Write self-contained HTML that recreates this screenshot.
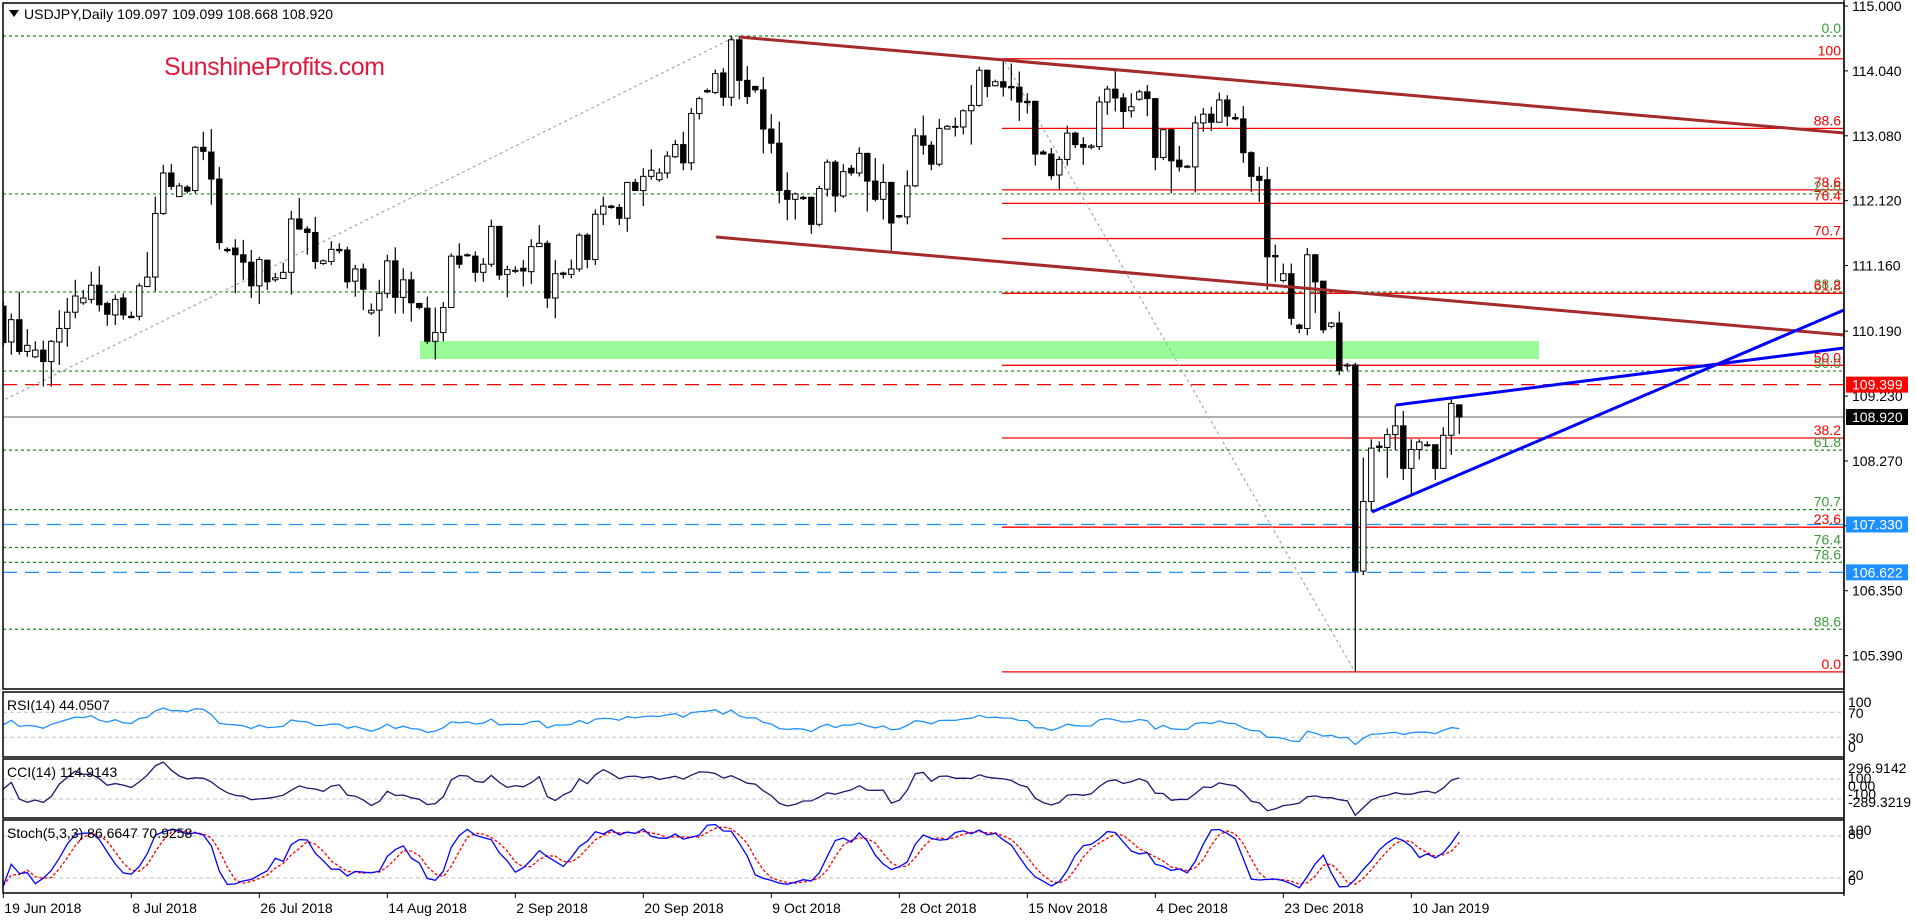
<!DOCTYPE html>
<html><head><meta charset="utf-8"><title>USDJPY Daily</title>
<style>html,body{margin:0;padding:0;background:#fff;}svg{display:block;font-family:"Liberation Sans",sans-serif;}</style>
</head><body>
<svg id="chart" xmlns="http://www.w3.org/2000/svg" width="1916" height="920" viewBox="0 0 1916 920">
<rect x="0" y="0" width="1916" height="920" fill="#fff"/>
<g id="main"></g>
<g id="sub"></g>
</svg>
<script>
// ---- price data (daily OHLC, bars 0..182) ----
const opens=[110.56,110.03,110.36,109.89,109.81,109.91,109.74,110.03,110.23,110.47,
110.61,110.66,110.87,110.60,110.43,110.68,110.41,110.41,110.85,110.99,
111.93,112.53,112.18,112.32,112.27,112.91,112.84,112.44,111.40,111.42,
111.32,111.21,110.86,111.24,110.95,110.97,111.06,111.85,111.70,111.65,
111.19,111.22,111.40,111.39,110.93,111.11,110.46,110.50,110.75,111.23,
110.69,110.95,110.60,110.53,110.04,110.17,110.54,111.30,111.32,111.30,
111.06,111.18,111.74,111.03,111.08,111.12,111.07,111.44,111.49,110.68,
111.05,111.03,111.11,111.61,111.25,111.92,112.04,112.02,111.86,112.39,
112.27,112.48,112.43,112.53,112.77,112.95,112.68,113.41,113.75,113.72,
114.01,113.65,114.50,113.90,113.81,113.76,113.18,112.97,112.27,112.14,
112.17,112.17,111.77,112.29,112.69,112.19,112.60,112.53,112.82,112.41,
112.14,112.39,111.90,111.88,112.34,113.08,112.94,112.66,113.18,113.22,
113.21,113.45,113.53,114.05,113.82,113.88,113.81,113.80,113.59,113.59,
112.84,112.81,112.50,112.73,113.12,112.95,112.91,112.92,113.58,113.77,
113.64,113.45,113.62,113.73,113.63,112.76,113.17,112.72,112.63,112.62,
113.27,113.40,113.28,113.61,113.35,113.33,112.83,112.48,112.43,111.31,
110.94,111.04,110.28,110.23,111.32,110.93,110.26,110.31,109.69,109.69,
106.64,107.67,108.49,108.47,108.66,108.79,108.16,108.44,108.51,108.51,
108.16,108.65,109.10];
const highs=[110.63,110.45,110.77,110.22,110.04,110.05,110.06,110.50,110.68,110.95,
110.80,111.07,111.15,110.63,110.73,110.75,110.48,110.90,111.36,112.18,
112.65,112.66,112.38,112.35,112.93,113.14,113.18,112.62,111.43,111.55,
111.54,111.39,111.29,111.25,111.05,111.20,111.97,112.16,111.74,111.88,
111.25,111.52,111.49,111.44,111.17,111.19,110.60,110.95,111.32,111.43,
111.12,111.07,110.61,110.70,110.54,110.62,111.34,111.49,111.34,111.37,
111.27,111.84,111.75,111.16,111.15,111.24,111.55,111.76,111.53,111.24,
111.07,111.25,111.64,111.64,111.99,112.18,112.06,112.07,112.40,112.44,
112.60,112.88,112.60,112.85,113.02,113.14,113.49,113.66,113.78,114.06,
114.08,114.56,114.56,114.11,113.82,113.95,113.40,113.29,112.54,112.24,
112.19,112.18,112.34,112.73,112.72,112.66,112.65,112.91,112.83,112.75,
112.66,112.40,111.91,112.57,113.19,113.38,113.00,113.33,113.24,113.35,
113.47,113.83,114.10,114.06,113.91,114.19,114.15,114.03,113.71,113.60,
112.87,112.90,112.77,113.23,113.14,113.06,112.96,113.66,113.82,114.05,
113.71,113.71,113.76,113.83,113.64,113.18,113.18,112.93,112.65,113.37,
113.49,113.51,113.72,113.68,113.41,113.52,112.85,112.62,112.62,111.47,
111.19,111.19,110.30,111.42,111.33,110.93,110.33,110.48,109.72,109.72,
108.32,108.59,108.56,108.75,109.10,109.01,108.59,108.59,108.56,108.51,
108.77,109.20,109.10];
const lows=[109.96,109.84,109.84,109.81,109.79,109.37,109.37,109.69,109.96,110.38,
110.58,110.60,110.48,110.27,110.28,110.36,110.38,110.35,110.84,110.78,
111.91,112.28,112.18,112.23,112.23,112.72,112.06,111.40,111.35,110.75,
110.95,110.68,110.59,110.80,110.92,110.96,110.73,111.69,111.32,111.11,
111.17,111.17,111.34,110.82,110.70,110.50,110.43,110.11,110.68,110.45,
110.45,110.33,110.51,110.00,109.77,110.04,110.53,111.12,111.29,110.92,
110.92,111.14,110.95,110.69,111.05,110.85,110.89,111.44,110.53,110.38,
110.97,110.97,111.07,111.12,111.17,111.76,112.00,111.76,111.66,112.27,
112.04,112.43,112.40,112.45,112.75,112.57,112.57,113.32,113.71,113.70,
113.52,113.52,113.62,113.55,113.72,112.82,112.82,112.08,111.83,111.84,
112.13,111.63,111.74,112.18,111.95,112.16,112.49,112.48,111.96,112.11,
111.84,111.38,111.86,111.77,112.32,112.80,112.57,112.63,113.17,113.07,
113.10,112.95,113.51,113.65,113.81,113.66,113.60,113.30,113.41,112.64,
112.80,112.43,112.29,112.64,112.90,112.65,112.88,112.87,113.39,113.44,
113.18,113.35,113.60,113.37,112.57,112.72,112.23,112.55,112.60,112.24,
113.14,113.15,113.28,113.22,113.31,112.68,112.25,112.10,110.80,110.92,
110.91,110.28,110.16,110.13,110.46,110.16,110.23,109.54,109.61,105.14,
106.58,107.52,108.40,108.02,108.43,107.99,107.77,108.29,108.48,107.99,
108.15,108.36,108.67];
const closes=[110.02,110.36,109.89,109.98,109.91,109.74,110.04,110.23,110.47,110.71,
110.68,110.87,110.58,110.44,110.66,110.43,110.39,110.86,110.99,111.93,
112.53,112.33,112.34,112.26,112.91,112.85,112.44,111.50,111.38,111.32,
111.21,110.86,111.25,110.92,110.98,111.06,111.85,111.70,111.65,111.22,
111.23,111.40,111.38,110.92,111.11,110.81,110.50,110.75,111.23,110.69,
110.95,110.61,110.54,110.04,110.17,110.54,111.30,111.18,111.31,111.06,
111.18,111.74,111.02,111.10,111.09,111.08,111.44,111.49,110.68,111.04,
111.03,111.11,111.61,111.25,111.92,112.04,112.02,111.86,112.39,112.27,
112.48,112.57,112.53,112.78,112.95,112.68,113.41,113.63,113.73,114.00,
113.65,114.50,113.90,113.66,113.76,113.18,112.97,112.27,112.14,112.22,
112.15,111.77,112.30,112.69,112.19,112.55,112.53,112.82,112.41,112.14,
112.39,111.79,111.88,112.34,113.08,112.94,112.66,113.19,113.22,113.21,
113.45,113.53,114.05,113.81,113.88,113.80,113.79,113.58,113.57,112.81,
112.81,112.49,112.73,113.12,112.95,112.91,112.93,113.58,113.77,113.64,
113.44,113.51,113.73,113.63,112.76,113.17,112.71,112.62,112.62,113.27,
113.40,113.28,113.61,113.37,113.33,112.83,112.48,112.42,111.29,111.29,
111.04,110.38,110.23,111.32,110.92,110.21,110.31,109.61,109.68,106.64,
107.67,108.46,108.47,108.66,108.79,108.16,108.44,108.55,108.50,108.16,
108.65,109.12,108.92];
const priceTicks=[115.000,114.040,113.080,112.120,111.160,110.190,109.230,108.270,107.310,106.350,105.390];
const dateLabels=['19 Jun 2018','8 Jul 2018','26 Jul 2018','14 Aug 2018','2 Sep 2018','20 Sep 2018','9 Oct 2018','28 Oct 2018','15 Nov 2018','4 Dec 2018','23 Dec 2018','10 Jan 2019'];
const redFibLevels=['100','88.6','78.6','76.4','70.7','61.8','50.0','38.2','23.6','0.0'];
const redFibValues=[114.22,113.19,112.28,112.08,111.56,110.75,109.685,108.61,107.29,105.15];
const greenFibLevels=['0.0','23.6','38.2','50.0','61.8','70.7','76.4','78.6','88.6'];
const greenFibValues=[114.556,112.22,110.77,109.60,108.43,107.55,106.99,106.77,105.78];

const NS='http://www.w3.org/2000/svg';
const main=document.getElementById('main'), sub=document.getElementById('sub');
function el(tag,attrs,parent){const e=document.createElementNS(NS,tag);for(const k in attrs)e.setAttribute(k,attrs[k]);(parent||main).appendChild(e);return e;}
function txt(s,attrs,parent){const e=el('text',attrs,parent);e.textContent=s;return e;}
const AX=1844;
function xOf(i){return 3.3+8*i;}
function yP(p){return 6+(115-p)*67.6;}
function yR(v){return 756-v*0.625;}
function yC(v){return 789-v*0.1;}
function yS(v){return 892-v*0.7;}

const defs=el('defs',{});
const cp=el('clipPath',{id:'mc'},defs);el('rect',{x:3,y:3,width:AX-3,height:686},cp);
const cr=el('clipPath',{id:'rc'},defs);el('rect',{x:3,y:692,width:AX-3,height:65},cr);
const cc=el('clipPath',{id:'cc'},defs);el('rect',{x:3,y:759,width:AX-3,height:59},cc);
const cs=el('clipPath',{id:'sc'},defs);el('rect',{x:3,y:820,width:AX-3,height:73},cs);
const g=el('g',{'clip-path':'url(#mc)'});



let z=el('rect',{x:420,y:341,width:1119,height:18,fill:'#98fb98'},g);



greenFibValues.forEach((v,k)=>{
  const l=el('line',{x1:3,x2:AX,y1:yP(v),y2:yP(v),stroke:'#1a8a1a','stroke-width':1.2,'stroke-dasharray':'3,3'},g);
  
  
});
redFibValues.forEach((v,k)=>{
  const l=el('line',{x1:1002,x2:AX,y1:yP(v),y2:yP(v),stroke:'#ff0000','stroke-width':1.3},g);
  
  
});
function hline(p,color,dash,name,w){const l=el('line',{x1:3,x2:AX,y1:yP(p),y2:yP(p),stroke:color,'stroke-width':w||1.3,'stroke-dasharray':dash},g);}
hline(109.399,'#ff0000','14,8','resistance-dashed-line');
hline(107.330,'#1e90ff','14,8','support-dashed-line-1');
hline(106.622,'#1e90ff','14,8','support-dashed-line-2');
hline(108.920,'#808080','','current-price-line',1.2);

let d1=el('line',{x1:0,y1:402,x2:737,y2:36,stroke:'#a8a8a8','stroke-width':1.2,'stroke-dasharray':'3,3'},g);


let d2=el('line',{x1:1005,y1:62,x2:1355,y2:672,stroke:'#a8a8a8','stroke-width':1.2,'stroke-dasharray':'3,3'},g);



for(let i=0;i<closes.length;i++){
  const x=xOf(i),o=opens[i],c=closes[i];
  const w=el('line',{x1:x,x2:x,y1:yP(highs[i]),y2:yP(lows[i]),stroke:'#000','stroke-width':1.2},g);
  
  
  const top=yP(Math.max(o,c)),bot=yP(Math.min(o,c));
  const b=el('rect',{x:x-2.7,y:top,width:5.4,height:Math.max(bot-top,1),fill:c>=o?'#fff':'#000',stroke:'#000','stroke-width':1},g);
  
  
}

function tl(x1,y1,x2,y2,col,name){const l=el('line',{x1,y1,x2,y2,stroke:col,'stroke-width':3},g);}
tl(739,37,1844,133,'#a52a2a','channel-upper-line');
tl(716,237,1844,335,'#a52a2a','channel-lower-line');
tl(1396,405,1844,348,'#0000ff','wedge-upper-line');
tl(1372,512,1844,310,'#0000ff','wedge-lower-line');

greenFibLevels.forEach((s,k)=>{
  const t=txt(s,{x:AX-3,y:yP(greenFibValues[k])-3,'text-anchor':'end','font-size':14,fill:'#3c9a3c'});
  
  
});
redFibLevels.forEach((s,k)=>{
  const t=txt(s,{x:AX-3,y:yP(redFibValues[k])-3,'text-anchor':'end','font-size':14,fill:'#ff0000'});
  
  
});

let f=el('rect',{x:3,y:3,width:AX-3,height:686,fill:'none',stroke:'#000','stroke-width':1.5});


el('line',{x1:AX,x2:AX,y1:0,y2:896,stroke:'#000','stroke-width':1.3});

priceTicks.forEach(p=>{
  el('line',{x1:AX,x2:AX+4,y1:yP(p),y2:yP(p),stroke:'#000'});
  const t=txt(p.toFixed(3),{x:1852,y:yP(p)+5,'font-size':14,fill:'#000'});
  
  
});
function box(p,label,bg,name){
  const y=yP(p);
  const r=el('rect',{x:1846,y:y-8,width:62,height:16,fill:bg});
  
  
  const t=txt(label,{x:1852,y:y+5,'font-size':14,fill:'#fff'});
  
  
}
box(109.399,'109.399','#ff0000','resistance-price');
box(108.920,'108.920','#000000','current-price');
box(107.330,'107.330','#1e90ff','support-price-1');
box(106.622,'106.622','#1e90ff','support-price-2');

let tri=el('path',{d:'M9 10 L19 10 L14 17 Z',fill:'#000'});


let tt=txt('USDJPY,Daily  109.097 109.099 108.668 108.920',{x:24,y:19,'font-size':14,fill:'#000',textLength:309,'xml:space':'preserve'});


let wm=txt('SunshineProfits.com',{x:164,y:75,'font-size':25,fill:'#e0193c',textLength:221});



// ---- indicators (computed from closes) ----
const N=closes.length;
const rsi=[];{let ag=0.08,al=0.08;rsi[0]=50;for(let i=1;i<N;i++){const d=closes[i]-closes[i-1];const gn=Math.max(d,0),ls=Math.max(-d,0);ag=(ag*13+gn)/14;al=(al*13+ls)/14;rsi[i]=al===0?100:100-100/(1+ag/al);}}
const cci=[];{const tp=closes.map((c,i)=>(c+highs[i]+lows[i])/3);for(let i=0;i<N;i++){const s=Math.max(0,i-13);const w=tp.slice(s,i+1);const m=w.reduce((a,b)=>a+b,0)/w.length;const md=w.reduce((a,b)=>a+Math.abs(b-m),0)/w.length;cci[i]=md===0?0:(tp[i]-m)/(0.015*md);}}
const stK=[],stD=[];{const raw=[];for(let i=0;i<N;i++){const s=Math.max(0,i-4);let hh=-1e9,ll=1e9;for(let j=s;j<=i;j++){hh=Math.max(hh,highs[j]);ll=Math.min(ll,lows[j]);}raw[i]=[closes[i]-ll,hh-ll];}
for(let i=0;i<N;i++){let a=0,b=0;for(let j=Math.max(0,i-2);j<=i;j++){a+=raw[j][0];b+=raw[j][1];}stK[i]=b===0?50:100*a/b;}
for(let i=0;i<N;i++){let a=0,n=0;for(let j=Math.max(0,i-2);j<=i;j++){a+=stK[j];n++;}stD[i]=a/n;}}

function panel(y,h,name){const r=el('rect',{x:3,y,width:AX-3,height:h,fill:'none',stroke:'#000','stroke-width':1.5},sub);}
function level(y){el('line',{x1:3,x2:AX,y1:y,y2:y,stroke:'#c0c0c0','stroke-dasharray':'4,3'},sub);}
function poly(arr,fy,col,clip,name,dash){const pts=arr.map((v,i)=>xOf(i).toFixed(1)+','+fy(v).toFixed(1)).join(' ');const p=el('polyline',{points:pts,fill:'none',stroke:col,'stroke-width':1.3,'clip-path':'url(#'+clip+')'},sub);if(dash)p.setAttribute('stroke-dasharray',dash);}
function alab(s,y,name){const t=txt(s,{x:1848,y,'font-size':14,fill:'#000'},sub);}
function plab(s,y,name){const t=txt(s,{x:7,y,'font-size':14,fill:'#000'},sub);}

level(yR(70));level(yR(30));
poly(rsi,yR,'#1e90ff','rc','rsi-line');
panel(692,65,'rsi-panel');
plab('RSI(14) 44.0507',710,'rsi-title');
alab('100',707,'rsi-axis-label');alab('70',718,'rsi-axis-label');alab('30',743,'rsi-axis-label');alab('0',752,'rsi-axis-label');
level(yC(100));level(yC(-100));
poly(cci,yC,'#191970','cc','cci-line');
panel(759,59,'cci-panel');
plab('CCI(14) 114.9143',777,'cci-title');
alab('296.9142',773,'cci-axis-label');alab('100',783,'cci-axis-label');alab('0.00',791,'cci-axis-label');alab('-100',799,'cci-axis-label');alab('-289.3219',807,'cci-axis-label');
level(yS(80));level(yS(20));
poly(stD,yS,'#ff0000','sc','stoch-signal-line','3,2');
poly(stK,yS,'#0000ff','sc','stoch-main-line');
panel(820,73,'stoch-panel');
plab('Stoch(5,3,3) 86.6647 70.9258',838,'stoch-title');
alab('100',835,'stoch-axis-label');alab('80',839,'stoch-axis-label');alab('20',880,'stoch-axis-label');alab('0',885,'stoch-axis-label');

dateLabels.forEach((s,k)=>{
  const x=xOf(16*k);
  el('line',{x1:x,x2:x,y1:893,y2:898,stroke:'#000'},sub);
  const t=txt(s,{x:x+1,y:913,'font-size':14,fill:'#000'},sub);
  
  
});
</script>
</body></html>
